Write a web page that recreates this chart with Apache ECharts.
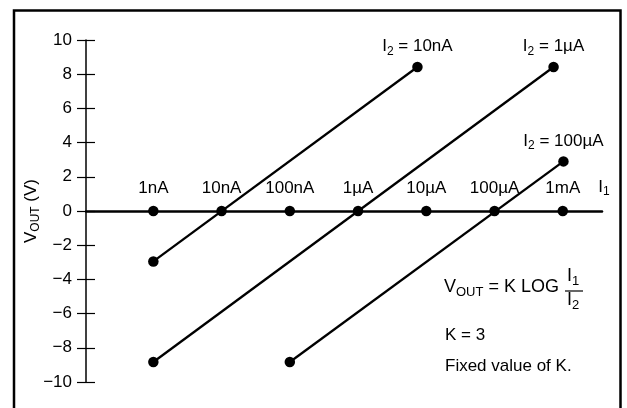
<!DOCTYPE html>
<html>
<head>
<meta charset="utf-8">
<script src="https://cdn.jsdelivr.net/npm/echarts@6/dist/echarts.min.js"></script>
<style>
  html, body { margin: 0; padding: 0; background: #fff; }
  #chart { width: 627px; height: 408px; }
</style>
</head>
<body>
<div id="chart"></div>
<script>
// I1 decades along the horizontal axis (0 = 1nA ... 6 = 1mA)
const decadePos = [0, 1, 2, 3, 4, 5, 6];
const decadeLabels = ["1nA", "10nA", "100nA", "1µA", "10µA", "100µA", "1mA"];

// V_OUT lines, one per I2 value: [decade, volts]
const i2Labels = ["10nA", "1µA", "100µA"];
const line10nA = [[0, -2.95], [3.87, 8.42]];
const line1uA = [[0, -8.83], [5.865, 8.42]];
const line100uA = [[2, -8.83], [6.01, 2.9]];

const FONT = "'Liberation Sans', Arial, sans-serif";
const FS = 17;
const sub = { fontSize: 12, fontFamily: FONT, color: "#000", verticalAlign: "bottom", lineHeight: 22 };
const main = { fontSize: FS, fontFamily: FONT, color: "#000", verticalAlign: "middle", lineHeight: 22 };
const fsub = { fontSize: 13, fontFamily: FONT, color: "#000", verticalAlign: "bottom", lineHeight: 23 };
const fmain = { fontSize: 18, fontFamily: FONT, color: "#000", verticalAlign: "middle", lineHeight: 23 };

function lineSeries(points, name) {
  return {
    type: "line",
    data: points.map((p, i) => {
      if (i === points.length - 1) {
        return {
          value: p,
          label: {
            show: true,
            position: "top",
            distance: 4,
            formatter: "{m|I}{s|2}{m| = " + name + "}",
            rich: { m: main, s: sub }
          }
        };
      }
      return p;
    }),
    symbol: "circle",
    symbolSize: 10.5,
    itemStyle: { color: "#000", opacity: 1 },
    lineStyle: { color: "#000", width: 2.3 },
    animation: false,
    z: 3
  };
}

const chart = echarts.init(document.getElementById("chart"));
chart.setOption({
  animation: false,
  grid: { left: 86, right: 25, top: 40, bottom: 26 },
  xAxis: {
    type: "value",
    min: -0.987,
    max: 6.575,
    axisLine: { onZero: true, lineStyle: { color: "#000", width: 2.5 } },
    axisTick: { show: false },
    axisLabel: { show: false },
    splitLine: { show: false },
    name: "{m|I}{s|1}",
    nameLocation: "end",
    nameGap: 2,
    nameMoveOverlap: false,
    nameTextStyle: {
      align: "center",
      verticalAlign: "bottom",
      padding: [0, 0, 13, 0],
      rich: { m: main, s: sub }
    }
  },
  yAxis: [
    {
      type: "value",
      min: -10,
      max: 10,
      interval: 2,
      axisLine: { show: true, onZero: false, lineStyle: { color: "#000", width: 1.5 } },
      axisTick: { show: true, length: 9, lineStyle: { color: "#000", width: 1.2 } },
      axisLabel: {
        margin: 14,
        color: "#000",
        fontSize: FS,
        fontFamily: FONT,
        formatter: v => (v < 0 ? "\u2212" + Math.abs(v) : String(v))
      },
      splitLine: { show: false },
      name: "{m|V}{s|OUT}{m| (V)}",
      nameLocation: "middle",
      nameGap: 44,
      nameMoveOverlap: false,
      nameTextStyle: { rich: { m: main, s: sub } }
    },
    {
      type: "value",
      min: -10,
      max: 10,
      interval: 2,
      position: "left",
      axisLine: { show: false, onZero: false },
      axisTick: { show: true, inside: true, length: 9, lineStyle: { color: "#000", width: 1.2 } },
      axisLabel: { show: false },
      splitLine: { show: false }
    }
  ],
  series: [
    {
      type: "scatter",
      data: decadePos.map(x => [x, 0]),
      symbol: "circle",
      symbolSize: 10.5,
      itemStyle: { color: "#000", opacity: 1 },
      label: {
        show: true,
        position: "top",
        distance: 9,
        color: "#000",
        fontSize: FS,
        fontFamily: FONT,
        formatter: p => decadeLabels[p.dataIndex]
      },
      z: 4
    },
    lineSeries(line10nA, i2Labels[0]),
    lineSeries(line1uA, i2Labels[1]),
    lineSeries(line100uA, i2Labels[2])
  ],
  graphic: [
    {
      type: "rect",
      shape: { x: 14, y: 10.5, width: 606.5, height: 420 },
      style: { fill: "none", stroke: "#000", lineWidth: 2.5 },
      silent: true
    },
    {
      type: "text",
      left: 444,
      top: 278,
      style: {
        text: "{m|V}{s|OUT}{m| = K LOG}",
        rich: { m: fmain, s: fsub }
      }
    },
    {
      type: "text",
      left: 567,
      top: 267,
      style: { text: "{m|I}{s|1}", rich: { m: fmain, s: fsub } }
    },
    {
      type: "line",
      shape: { x1: 565, y1: 291, x2: 583, y2: 291 },
      style: { stroke: "#000", lineWidth: 1.2 }
    },
    {
      type: "text",
      left: 567,
      top: 291,
      style: { text: "{m|I}{s|2}", rich: { m: fmain, s: fsub } }
    },
    {
      type: "text",
      left: 445,
      top: 327,
      style: { text: "K = 3", fill: "#000", font: FS + "px " + FONT }
    },
    {
      type: "text",
      left: 445,
      top: 358,
      style: { text: "Fixed value of K.", fill: "#000", font: FS + "px " + FONT }
    }
  ]
});
</script>
</body>
</html>
